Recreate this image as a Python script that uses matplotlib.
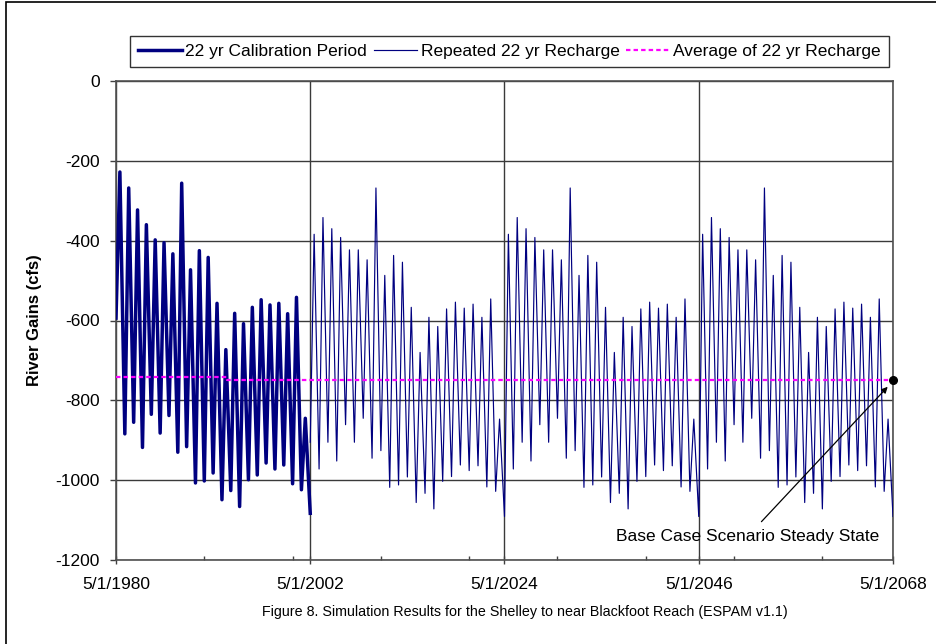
import numpy as np
import matplotlib.pyplot as plt
from matplotlib.patches import Rectangle

plt.rcParams['font.family'] = ['Liberation Sans', 'DejaVu Sans']

# time axis: years counted from 5/1/1980
# calibration period 1980-2002, one peak and one trough per year
cal_start = -594
cal_peak = [-228, -268, -323, -360, -398, -405, -433, -256, -473, -425, -442,
            -557, -673, -582, -608, -567, -548, -561, -557, -583, -542, -845]
cal_trough = [-884, -855, -918, -835, -882, -838, -930, -916, -1007, -1002, -982,
              -1049, -1026, -1066, -999, -987, -957, -972, -962, -1009, -1024, -1083]

# repeated 22 yr recharge (same cycle three times, 2002-2068)
rep_start = -905
rep_peak = [-384, -342, -370, -392, -423, -423, -448, -268, -487, -437, -454,
            -567, -680, -592, -615, -571, -554, -569, -559, -592, -546, -847]
rep_trough = [-972, -905, -952, -861, -905, -845, -945, -926, -1018, -1012, -992,
              -1056, -1033, -1072, -1003, -991, -962, -976, -964, -1017, -1028, -1091]

# average of 22 yr recharge
avg_x = [0, 12.6, 12.6, 88]
avg_y = [-741, -741, -748, -748]
steady_x = 88
steady_y = -749

xtick_pos = [0, 22, 44, 66, 88]
xtick_lab = ['5/1/1980', '5/1/2002', '5/1/2024', '5/1/2046', '5/1/2068']
yticks = [0, -200, -400, -600, -800, -1000, -1200]


def zigzag(x0, first, peaks, troughs, phase=0.44):
    xs = [x0]
    ys = [first]
    for i in range(len(peaks)):
        xs += [x0 + i + phase, x0 + i + 1]
        ys += [peaks[i], troughs[i]]
    return xs, ys


cal_x, cal_y = zigzag(0, cal_start, cal_peak, cal_trough)
rep_x, rep_y = zigzag(22, rep_start, rep_peak, rep_trough)
for k in (1, 2):
    xs, ys = zigzag(22 + 22 * k, rep_trough[-1], rep_peak, rep_trough)
    rep_x += xs[1:]
    rep_y += ys[1:]

fig = plt.figure(figsize=(9.37, 6.44), dpi=100)
ax = fig.add_axes([116 / 937, 1 - 560 / 644, 777 / 937, 479 / 644])

navy = '#000080'
l1, = ax.plot(cal_x, cal_y, color=navy, lw=2.5, solid_joinstyle='round',
              label='22 yr Calibration Period', zorder=3)
l2, = ax.plot(rep_x, rep_y, color=navy, lw=0.85, label='Repeated 22 yr Recharge', zorder=3)
l3, = ax.plot(avg_x, avg_y, color='#FF00FF', lw=1.6, ls=(0, (2, 1.4)),
              label='Average of 22 yr Recharge', zorder=4)
ax.plot([steady_x], [steady_y], 'o', color='black', ms=5.5, zorder=6, clip_on=False)

ax.annotate('', xy=(87.4, -766), xytext=(73.1, -1104),
            arrowprops=dict(arrowstyle='-|>', color='black', lw=0.9,
                            mutation_scale=9, shrinkA=0, shrinkB=0), zorder=6)
ax.text(71.5, -1142, 'Base Case Scenario Steady State', fontsize=12.5,
        ha='center', va='center', zorder=6)

ax.set_xlim(0, 88)
ax.set_ylim(-1200, 0)
ax.set_xticks(xtick_pos)
ax.set_xticklabels(xtick_lab)
ax.set_xticks(np.arange(10, 88, 10), minor=True)
ax.set_yticks(yticks)
ax.set_yticklabels([str(v) for v in yticks])
ax.tick_params(axis='x', which='major', direction='inout', length=6, width=1,
               color='#404040', labelsize=12.5, pad=9)
ax.tick_params(axis='x', which='minor', direction='in', length=3, width=1, color='#404040')
ax.tick_params(axis='y', which='major', direction='out', length=4.5, width=1,
               color='#404040', labelsize=12.5, pad=7)
ax.grid(True, which='major', color='#3a3a3a', lw=1.0, zorder=1)
for s in ax.spines.values():
    s.set_color('#505050')
    s.set_linewidth(1.2)

ax.set_ylabel('River Gains (cfs)', fontsize=12, fontweight='bold', labelpad=10)

leg = fig.legend(handles=[l1, l2, l3], loc='center', ncol=3,
                 bbox_to_anchor=(509.5 / 937, 1 - 51.5 / 644), fontsize=12.5,
                 frameon=True, fancybox=False, handlelength=2.5, handletextpad=0.2,
                 columnspacing=0.4, borderpad=0.45, edgecolor='black')
leg.get_frame().set_linewidth(1.0)

fig.text(525 / 937, 1 - 612 / 644,
         'Figure 8. Simulation Results for the Shelley to near Blackfoot Reach (ESPAM v1.1)',
         ha='center', va='center', fontsize=10.3)

fig.patches.append(Rectangle((6 / 937, -0.05), 1.0, 1.05 - 2 / 644, transform=fig.transFigure,
                             fill=False, edgecolor='black', lw=1.2))

fig.savefig('out.png', dpi=100)
